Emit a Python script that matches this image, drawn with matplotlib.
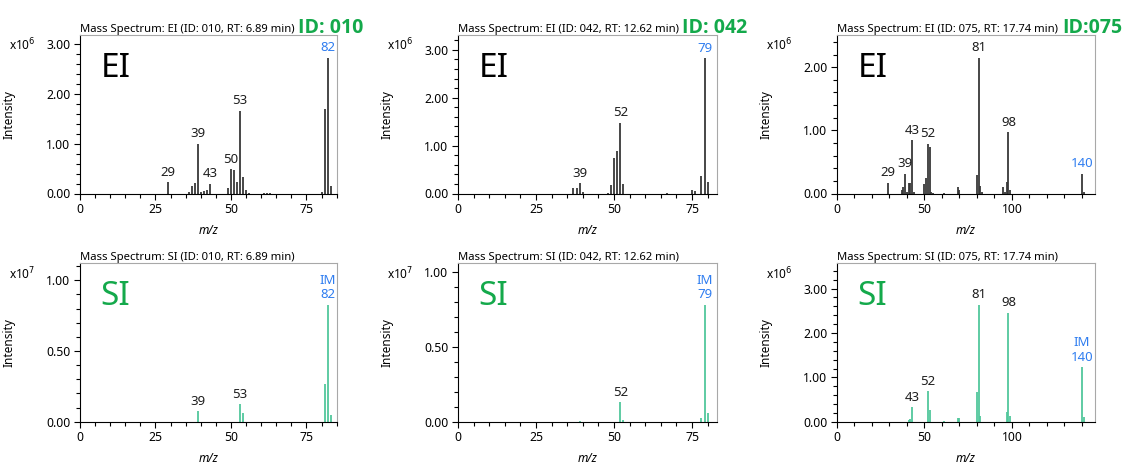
import matplotlib
matplotlib.use("Agg")
import matplotlib.pyplot as plt
from matplotlib.ticker import MultipleLocator, FormatStrFormatter

plt.rcParams['font.family'] = ['Noto Sans', 'DejaVu Sans']

# ---- data (intensities in units of the axis multiplier) ----
ids = ["010", "042", "075"]
rts = ["6.89", "12.62", "17.74"]
id_tags = ["ID: 010", "ID: 042", "ID:075"]

# EI spectra (x10^6)
ei010_mz = [29, 36, 37, 38, 39, 40, 41, 42, 43, 49, 50, 51, 52, 53, 54, 55, 56, 61, 62, 63, 80, 81, 82, 83]
ei010_int = [0.23, 0.03, 0.15, 0.21, 1.00, 0.04, 0.05, 0.07, 0.20, 0.12, 0.49, 0.47, 0.23, 1.67, 0.33, 0.07, 0.01,
             0.01, 0.01, 0.01, 0.03, 1.70, 2.73, 0.15]
ei042_mz = [37, 38, 39, 40, 48, 49, 50, 51, 52, 53, 67, 75, 76, 78, 79, 80]
ei042_int = [0.11, 0.12, 0.21, 0.04, 0.01, 0.17, 0.75, 0.88, 1.48, 0.19, 0.01, 0.07, 0.05, 0.37, 2.83, 0.24]
ei075_mz = [29, 37, 38, 39, 40, 41, 42, 43, 44, 50, 51, 52, 53, 54, 55, 61, 69, 70, 80, 81, 82, 83,
            95, 96, 97, 98, 99, 140, 141]
ei075_int = [0.17, 0.06, 0.11, 0.31, 0.03, 0.16, 0.17, 0.84, 0.03, 0.15, 0.24, 0.79, 0.73, 0.03, 0.01, 0.01,
             0.11, 0.06, 0.30, 2.15, 0.12, 0.02, 0.11, 0.03, 0.19, 0.97, 0.05, 0.31, 0.02]

# SI spectra
si010_mz = [39, 53, 54, 81, 82, 83]            # x10^7
si010_int = [0.076, 0.123, 0.059, 0.267, 0.827, 0.047]
si042_mz = [39, 52, 53, 78, 79, 80]            # x10^7
si042_int = [0.003, 0.132, 0.011, 0.027, 0.783, 0.060]
si075_mz = [41, 42, 43, 52, 53, 61, 69, 70, 80, 81, 82, 97, 98, 99, 140, 141]   # x10^6
si075_int = [0.03, 0.06, 0.33, 0.69, 0.27, 0.02, 0.08, 0.08, 0.67, 2.64, 0.14, 0.23, 2.46, 0.14, 1.23, 0.10]

# peak labels: (m/z, text, colour key)
ei010_labels = [(29, "29", "k"), (39, "39", "k"), (43, "43", "k"), (50, "50", "k"), (53, "53", "k"), (82, "82", "b")]
ei042_labels = [(39, "39", "k"), (52, "52", "k"), (79, "79", "b")]
ei075_labels = [(29, "29", "k"), (39, "39", "k"), (43, "43", "k"), (52, "52", "k"), (81, "81", "k"), (98, "98", "k"),
                (140, "140", "b")]
si010_labels = [(39, "39", "k"), (53, "53", "k"), (82, "IM\n82", "b")]
si042_labels = [(52, "52", "k"), (79, "IM\n79", "b")]
si075_labels = [(43, "43", "k"), (52, "52", "k"), (81, "81", "k"), (98, "98", "k"), (140, "IM\n140", "b")]

EI_COLOR = "#383838"
SI_COLOR = "#52c79c"
GREEN = "#14a94b"
BLUE = "#2f7df0"
TXT = "#1e1e1e"

panels = [
    # mz, int, labels, mode, exp, xmax, ymax, ymajor, yminor, xmajor, xminor
    (ei010_mz, ei010_int, ei010_labels, "EI", 6, 85.1, 3.19, 1.0, 0.2, 25, 5),
    (ei042_mz, ei042_int, ei042_labels, "EI", 6, 83.0, 3.31, 1.0, 0.2, 25, 5),
    (ei075_mz, ei075_int, ei075_labels, "EI", 6, 147.5, 2.51, 1.0, 0.2, 50, 10),
    (si010_mz, si010_int, si010_labels, "SI", 7, 85.1, 1.12, 0.5, 0.1, 25, 5),
    (si042_mz, si042_int, si042_labels, "SI", 7, 83.0, 1.06, 0.5, 0.1, 25, 5),
    (si075_mz, si075_int, si075_labels, "SI", 6, 147.5, 3.57, 1.0, 0.2, 50, 10),
]

lefts = [80, 458, 837]
widths = [257, 259, 258]
W, H = 1126, 463
row_top = [35, 263.3]
row_h = 158.5
tag_x = [0.848, 0.865, 0.872]

fig = plt.figure(figsize=(W / 100, H / 100), dpi=100)

for i, (mz, inten, labels, mode, exp, xmax, ymax, ymaj, ymin_, xmaj, xmin_) in enumerate(panels):
    r, c = divmod(i, 3)
    ax = fig.add_axes([lefts[c] / W, 1 - (row_top[r] + row_h) / H, widths[c] / W, row_h / H])
    color = EI_COLOR if mode == "EI" else SI_COLOR
    ax.vlines(mz, 0, inten, color=color, lw=1.3)
    ax.set_xlim(0, xmax)
    ax.set_ylim(0, ymax)

    ax.xaxis.set_major_locator(MultipleLocator(xmaj))
    ax.xaxis.set_minor_locator(MultipleLocator(xmin_))
    ax.yaxis.set_major_locator(MultipleLocator(ymaj))
    ax.yaxis.set_minor_locator(MultipleLocator(ymin_))
    ax.yaxis.set_major_formatter(FormatStrFormatter("%.2f"))
    ax.tick_params(which="major", length=4.3, width=0.8, labelsize=8.8, pad=2.5, colors="black")
    ax.tick_params(which="minor", length=2.8, width=0.8)
    for side in ["left", "bottom"]:
        ax.spines[side].set_color("black")
        ax.spines[side].set_linewidth(0.8)
    for side in ["top", "right"]:
        ax.spines[side].set_color("#a8a8a8")
        ax.spines[side].set_linewidth(0.8)

    ax.set_ylabel("Intensity", fontsize=8.5)
    ax.yaxis.set_label_coords(-0.25, 0.5)
    ax.set_xlabel("m/z", fontsize=8.5, style="italic")
    ax.xaxis.set_label_coords(0.5, -0.19)
    ax.text(-0.275, 0.935, r"x10$^{%d}$" % exp, transform=ax.transAxes, fontsize=8.5, va="center", ha="left")

    ax.set_title("Mass Spectrum: %s (ID: %s, RT: %s min)" % (mode, ids[c], rts[c]), loc="left",
                 fontsize=8.1, pad=2.5)
    if r == 0:
        ax.text(tag_x[c], 1.012, id_tags[c], transform=ax.transAxes, fontsize=14, fontweight="bold",
                family=["Open Sans", "DejaVu Sans"], color=GREEN, va="baseline", ha="left")

    ax.text(0.08, 0.79, mode, transform=ax.transAxes, fontsize=24, va="center", ha="left",
            color="black" if mode == "EI" else GREEN)

    lookup = dict(zip(mz, inten))
    for x, txt, ck in labels:
        ax.annotate(txt, (x, lookup[x]), xytext=(0, 2.5), textcoords="offset points", ha="center",
                    va="bottom", fontsize=9.5, color=BLUE if ck == "b" else TXT, linespacing=1.15)

fig.savefig("out.png", dpi=100)
